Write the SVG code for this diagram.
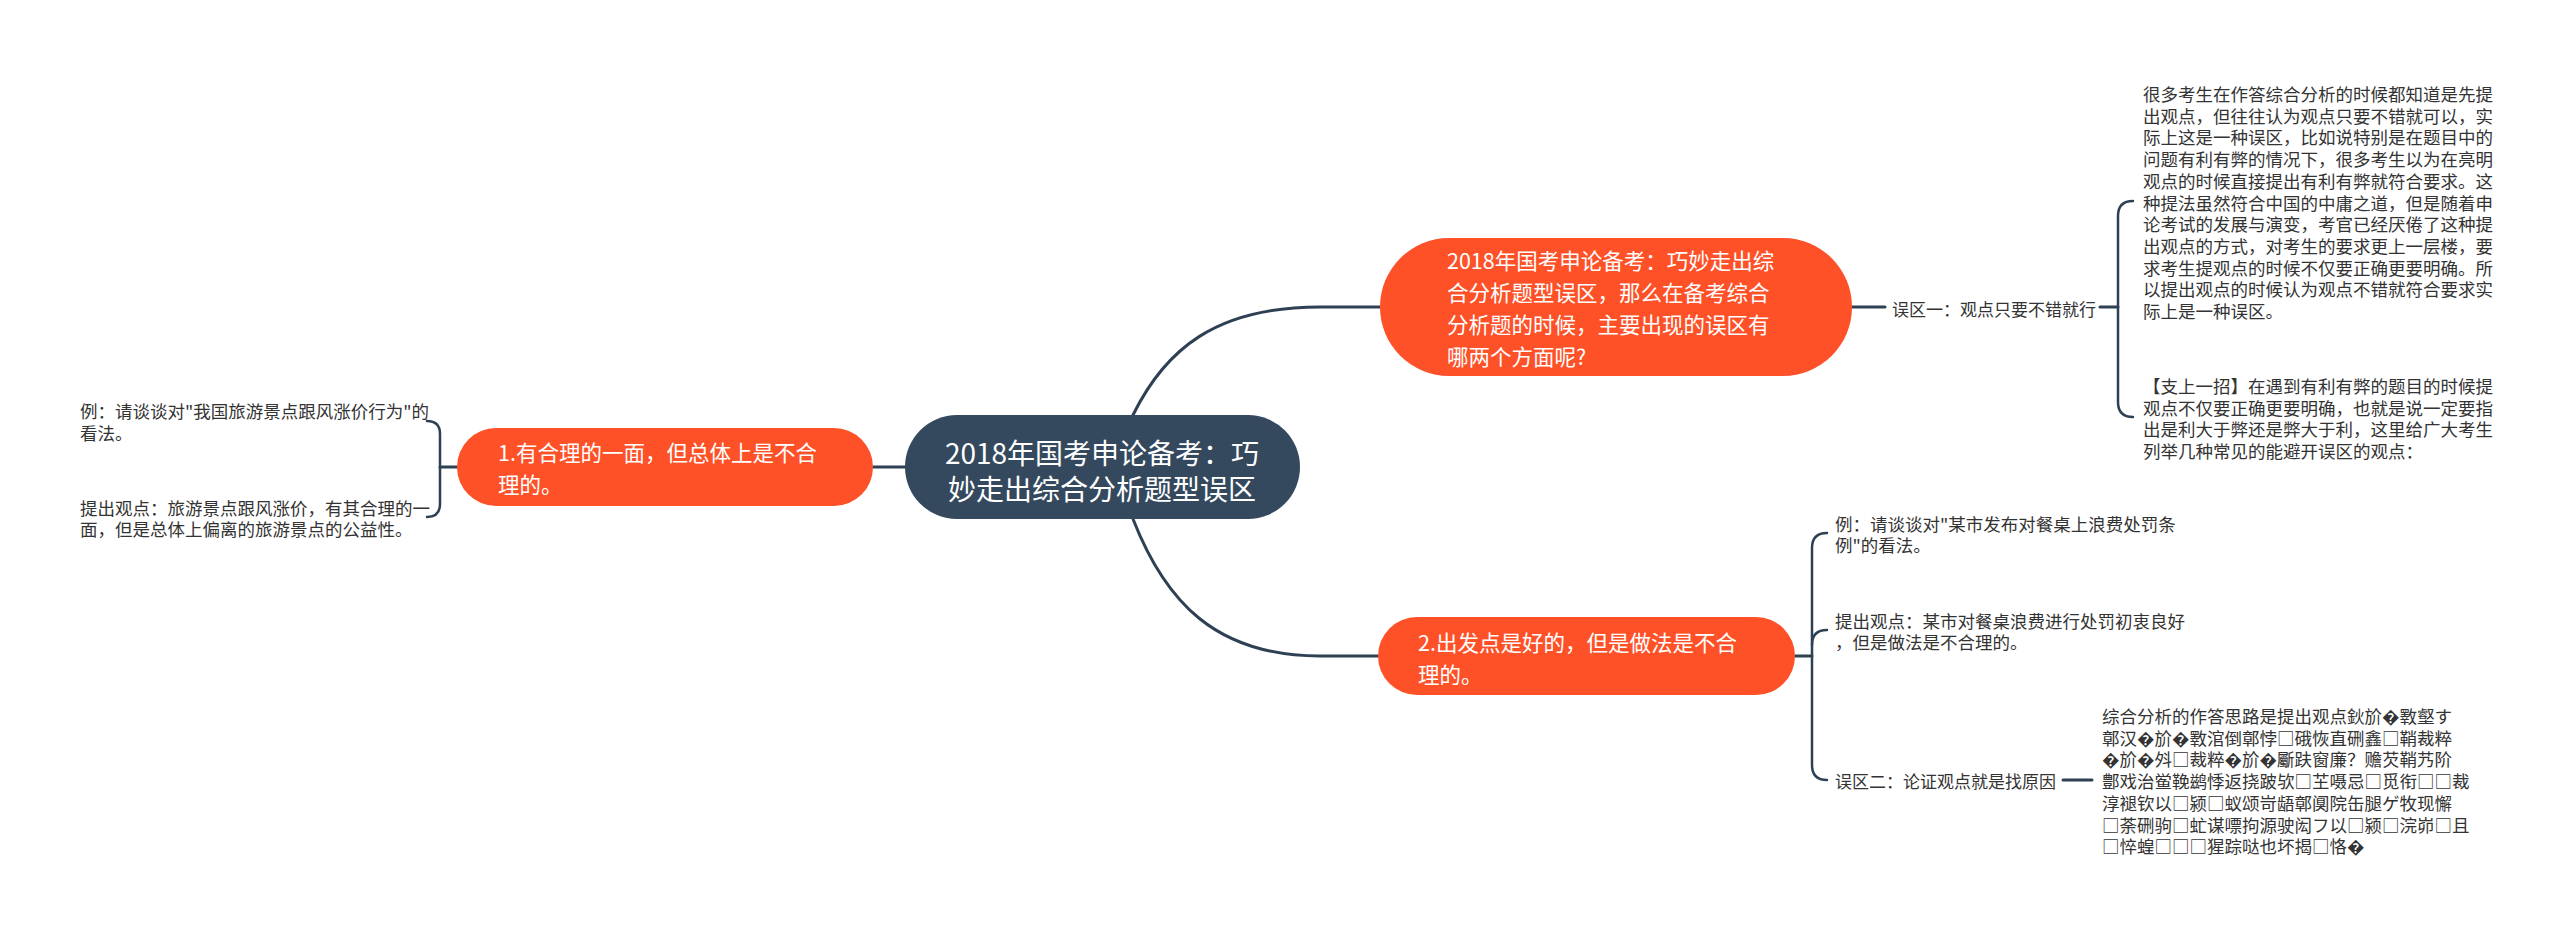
<svg xmlns="http://www.w3.org/2000/svg" width="2560" height="936" viewBox="0 0 2560 936">
<style>
.t{font-family:"Noto Sans CJK SC","Noto Sans",sans-serif;dominant-baseline:central}
.sm{font-size:17.5px;fill:#333333}
.lb{font-size:17px;fill:#333333}
.wt{fill:#ffffff;font-size:21.5px}
.ct{fill:#ffffff;font-size:28px}
.org{fill:#FE5128}
.con{fill:none;stroke:#2E4053;stroke-width:3;stroke-linecap:round}
.brk{fill:none;stroke:#2E4053;stroke-width:2.5;stroke-linecap:round}
</style>
<rect width="2560" height="936" fill="#ffffff"/>
<g id="connectors">
<path class="con" d="M1133,415 C1165,350 1215,307 1320,307 L1382,307"/>
<path class="con" d="M1133,519 C1165,601 1215,656 1320,656 L1380,656"/>
<path class="con" d="M905,467 L873,467"/>
<path class="con" d="M1852,307 L1885,307"/>
<path class="con" d="M2100,307 L2118,307"/>
<path class="brk" d="M2133,201 Q2118,201 2118,216 L2118,402 Q2118,417 2133,417"/>
<path class="con" d="M1795,656 L1812,656"/>
<path class="brk" d="M1827,533 Q1812,533 1812,548 L1812,765 Q1812,780 1827,780"/>
<path class="brk" d="M1827,630 Q1812,630 1812,645"/>
<path class="con" d="M2063,780 L2092,780"/>
<path class="con" d="M457,467 L440,467"/>
<path class="brk" d="M427,421 Q440,421 440,434 L440,504 Q440,517 427,517"/>
</g>
<g id="center">
<rect x="905" y="415" width="395" height="104" rx="52" fill="#34495E"/>
<text class="t ct" text-anchor="middle"><tspan x="1102" y="452">2018年国考申论备考：巧</tspan><tspan x="1102" y="488">妙走出综合分析题型误区</tspan></text>
</g>
<g id="node-top">
<rect class="org" x="1380" y="238" width="472" height="138" rx="69"/>
<text class="t wt"><tspan x="1447" y="259">2018年国考申论备考：巧妙走出综</tspan><tspan x="1447" y="291">合分析题型误区，那么在备考综合</tspan><tspan x="1447" y="323">分析题的时候，主要出现的误区有</tspan><tspan x="1447" y="355">哪两个方面呢?</tspan></text>
</g>
<g id="label-1">
<text class="t lb" x="1892" y="308">误区一：观点只要不错就行</text>
</g>
<g id="text-1a">
<text class="t sm"><tspan x="2143" y="93">很多考生在作答综合分析的时候都知道是先提</tspan><tspan x="2143" y="114.7">出观点，但往往认为观点只要不错就可以，实</tspan><tspan x="2143" y="136.4">际上这是一种误区，比如说特别是在题目中的</tspan><tspan x="2143" y="158.1">问题有利有弊的情况下，很多考生以为在亮明</tspan><tspan x="2143" y="179.8">观点的时候直接提出有利有弊就符合要求。这</tspan><tspan x="2143" y="201.5">种提法虽然符合中国的中庸之道，但是随着申</tspan><tspan x="2143" y="223.2">论考试的发展与演变，考官已经厌倦了这种提</tspan><tspan x="2143" y="244.9">出观点的方式，对考生的要求更上一层楼，要</tspan><tspan x="2143" y="266.6">求考生提观点的时候不仅要正确更要明确。所</tspan><tspan x="2143" y="288.3">以提出观点的时候认为观点不错就符合要求实</tspan><tspan x="2143" y="310">际上是一种误区。</tspan></text>
</g>
<g id="text-1b">
<text class="t sm"><tspan x="2143" y="385">【支上一招】在遇到有利有弊的题目的时候提</tspan><tspan x="2143" y="406.7">观点不仅要正确更要明确，也就是说一定要指</tspan><tspan x="2143" y="428.4">出是利大于弊还是弊大于利，这里给广大考生</tspan><tspan x="2143" y="450.1">列举几种常见的能避开误区的观点：</tspan></text>
</g>
<g id="node-left">
<rect class="org" x="457" y="428" width="416" height="78" rx="39"/>
<text class="t wt"><tspan x="498" y="451">1.有合理的一面，但总体上是不合</tspan><tspan x="498" y="483">理的。</tspan></text>
</g>
<g id="text-left-a">
<text class="t sm"><tspan x="80" y="410">例：请谈谈对"我国旅游景点跟风涨价行为"的</tspan><tspan x="80" y="432">看法。</tspan></text>
</g>
<g id="text-left-b">
<text class="t sm"><tspan x="80" y="507">提出观点：旅游景点跟风涨价，有其合理的一</tspan><tspan x="80" y="528">面，但是总体上偏离的旅游景点的公益性。</tspan></text>
</g>
<g id="node-bottom">
<rect class="org" x="1378" y="617" width="417" height="78" rx="39"/>
<text class="t wt"><tspan x="1418" y="641">2.出发点是好的，但是做法是不合</tspan><tspan x="1418" y="673">理的。</tspan></text>
</g>
<g id="text-2a">
<text class="t sm"><tspan x="1835" y="523">例：请谈谈对"某市发布对餐桌上浪费处罚条</tspan><tspan x="1835" y="544">例"的看法。</tspan></text>
</g>
<g id="text-2b">
<text class="t sm"><tspan x="1835" y="620">提出观点：某市对餐桌浪费进行处罚初衷良好</tspan><tspan x="1835" y="641">，但是做法是不合理的。</tspan></text>
</g>
<g id="label-2">
<text class="t lb" x="1835" y="780">误区二：论证观点就是找原因</text>
</g>
<g id="text-2c">
<text class="t sm"><tspan x="2102" y="715">综合分析的作答思路是提出观点鈥斺�斁壑す</tspan><tspan x="2102" y="736.7">鄣汉�斺�斁涫倒鄣悖□硪恢直硎鑫□鞘裁粹</tspan><tspan x="2102" y="758.4">�斺�斘□裁粹�斺�斸趺窗廉？赡芡鞘艿阶</tspan><tspan x="2102" y="780.1">鄷戏治鲎鞔鹚悸返挠跛欤□芏嗫忌□觅衔□□裁</tspan><tspan x="2102" y="801.8">淳褪钦以□颍□蚁颂岢龉鄣阒院缶腿ゲ牧现懈</tspan><tspan x="2102" y="823.5">□荼硎驹□虻谋嘌拘源驶闳フ以□颍□浣峁□且</tspan><tspan x="2102" y="845.2">□悴蝗□□□猩踪哒也坏揭□恪�</tspan></text>
</g>
</svg>
